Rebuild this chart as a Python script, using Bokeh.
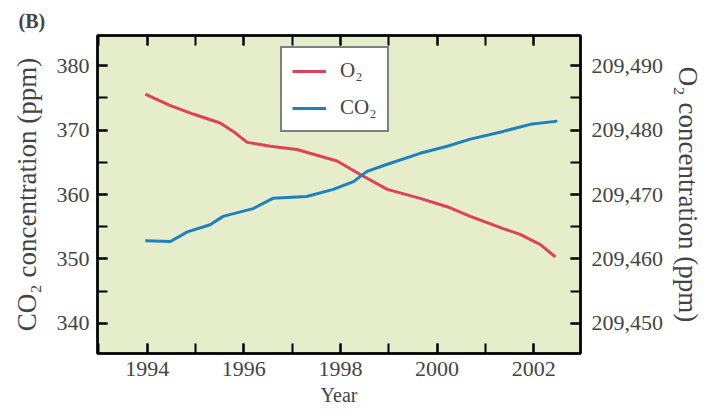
from bokeh.plotting import figure
from bokeh.models import Range1d, LinearAxis, SingleIntervalTicker, NumeralTickFormatter, Legend, LegendItem
from bokeh.embed import file_html
from bokeh.resources import INLINE

# Data
o2_years = [1993.96, 1994.48, 1994.95, 1995.51, 1995.78, 1996.07, 1996.55, 1997.10, 1997.37,
            1997.93, 1998.41, 1998.97, 1999.65, 2000.21, 2000.69, 2001.37, 2001.72, 2002.14, 2002.45]
o2_ppm = [209485.6, 209483.8, 209482.5, 209481.1, 209479.8, 209478.1, 209477.5, 209477.0, 209476.4,
          209475.2, 209473.1, 209470.8, 209469.4, 209468.1, 209466.6, 209464.7, 209463.8, 209462.2, 209460.3]
co2_years = [1993.96, 1994.48, 1994.83, 1995.30, 1995.57, 1996.19, 1996.60, 1997.30, 1997.85,
             1998.27, 1998.55, 1998.97, 1999.65, 2000.21, 2000.69, 2001.37, 2001.93, 2002.49]
co2_ppm = [352.8, 352.7, 354.2, 355.3, 356.6, 357.8, 359.4, 359.7, 360.8,
           362.0, 363.6, 364.7, 366.4, 367.5, 368.6, 369.8, 370.9, 371.4]
O2_OFFSET = 209110

FONT = "Liberation Serif"
TICK_FS = "22px"
LABEL_FS = "27px"

p = figure(width=706, height=412, output_backend="svg", toolbar_location=None,
           x_range=Range1d(1992.97, 2002.97), y_range=Range1d(335.3, 384.7),
           min_border_left=97, min_border_right=126, min_border_top=35, min_border_bottom=59,
           background_fill_color="#e6edcb", border_fill_color="white")
p.extra_y_ranges = {"o2": Range1d(335.3 + O2_OFFSET, 384.7 + O2_OFFSET)}

p.grid.visible = False
p.outline_line_color = "black"
p.outline_line_width = 2.5

p.title.text = "(B)"
p.title.text_font = FONT
p.title.text_font_size = "20px"
p.title.text_font_style = "bold"
p.title.offset = -79
p.title.standoff = 8

def style_axis(ax):
    ax.major_tick_in = 10
    ax.major_tick_out = 0
    ax.minor_tick_in = 10
    ax.minor_tick_out = 0
    ax.major_tick_line_width = 2
    ax.minor_tick_line_width = 2
    ax.axis_line_width = 2
    ax.major_label_text_font = FONT
    ax.major_label_text_font_size = TICK_FS
    ax.axis_label_text_font = FONT
    ax.axis_label_text_font_size = LABEL_FS
    ax.axis_label_text_font_style = "normal"

xax = p.xaxis[0]
xax.ticker = SingleIntervalTicker(interval=2, num_minor_ticks=2)
xax.axis_label = "Year"
style_axis(xax)
xax.axis_label_text_font_size = "20px"
xax.axis_label_standoff = 5
xax.major_label_standoff = 8

yax = p.yaxis[0]
yax.ticker = SingleIntervalTicker(interval=10, num_minor_ticks=2)
yax.axis_label = "CO₂ concentration (ppm)"
style_axis(yax)
yax.major_label_standoff = 8
yax.axis_label_standoff = 12

rax = LinearAxis(y_range_name="o2", ticker=SingleIntervalTicker(interval=10, num_minor_ticks=2),
                 formatter=NumeralTickFormatter(format="0,0"), axis_label="O₂ concentration (ppm)")
style_axis(rax)
rax.major_label_standoff = 11
rax.axis_label_standoff = 7
p.add_layout(rax, "right")

tax = LinearAxis(ticker=SingleIntervalTicker(interval=2, num_minor_ticks=2))
style_axis(tax)
tax.major_label_text_font_size = "0px"
tax.major_label_text_color = None
p.add_layout(tax, "above")

r_o2 = p.line(o2_years, o2_ppm, y_range_name="o2", line_color="#e0405a", line_width=3)
r_co2 = p.line(co2_years, co2_ppm, line_color="#1f80c0", line_width=3)

legend = Legend(items=[LegendItem(label="O₂", renderers=[r_o2]),
                       LegendItem(label="CO₂", renderers=[r_co2])],
                location=(183, 221))
legend.border_line_color = "black"
legend.border_line_width = 2.5
legend.background_fill_color = "white"
legend.background_fill_alpha = 1
legend.label_text_font = FONT
legend.label_text_font_size = "21px"
legend.glyph_width = 34
legend.label_standoff = 14
legend.padding = 10
legend.spacing = 12
legend.margin = 0
p.add_layout(legend, "center")

open("out.html", "w").write(file_html(p, INLINE))
